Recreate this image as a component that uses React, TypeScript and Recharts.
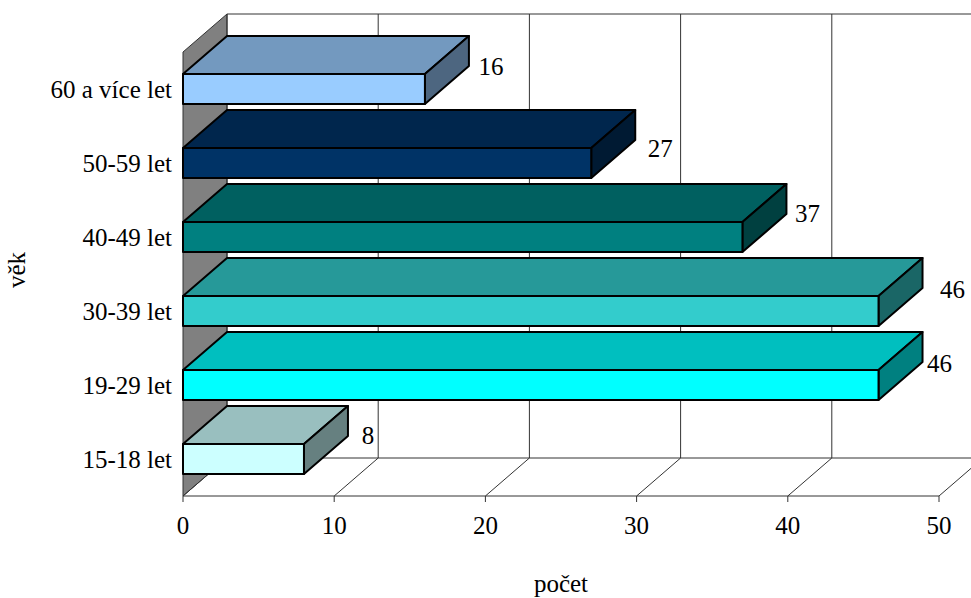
import { Bar, BarChart, CartesianGrid, Label, LabelList, XAxis, YAxis } from 'recharts'

const ageGroups = ['60 a více let', '50-59 let', '40-49 let', '30-39 let', '19-29 let', '15-18 let']
const counts = [16, 27, 37, 46, 46, 8]
const xTicks = [0, 10, 20, 30, 40, 50]

const frontColors = ['#99ccff', '#003366', '#008080', '#33cccc', '#00ffff', '#ccffff']
const topColors = ['#7399bf', '#00264d', '#006060', '#269999', '#00bfbf', '#99bfbf']
const sideColors = ['#4d6680', '#001a33', '#004040', '#1a6666', '#008080', '#668080']

// value labels sit at slightly irregular spots in the original
const labelDx = [66, 69, 65, 74, 61, 64]
const labelDy = [-8, 0, -9, -7, -7, -9]

const data = ageGroups.map((group, i) => ({ group, count: counts[i] }))

const DEPTH_X = 44
const DEPTH_Y = 38
const FONT = '"Liberation Serif", "Times New Roman", serif'
const FONT_SIZE = 25
const WALL_TOP = 14
const FLOOR_Y = 496

function GridLine(props: any) {
  const { x1, index } = props
  const bx = x1 + DEPTH_X
  const by = FLOOR_Y - DEPTH_Y
  return (
    <g key={index}>
      {index === 0 && (
        <>
          <polygon
            points={`${x1},${WALL_TOP + DEPTH_Y} ${bx},${WALL_TOP} ${bx},${by} ${x1},${FLOOR_Y}`}
            fill="#808080"
            stroke="#333"
            strokeWidth={1}
          />
          <line x1={bx} y1={WALL_TOP} x2={971} y2={WALL_TOP} stroke="#333" />
          <line x1={bx} y1={by} x2={971} y2={by} stroke="#333" />
        </>
      )}
      <line x1={bx} y1={WALL_TOP} x2={bx} y2={by} stroke="#333" />
      <line x1={x1} y1={FLOOR_Y} x2={bx} y2={by} stroke="#333" />
    </g>
  )
}

function Bar3D(props: any) {
  const { x, y, width, height, index } = props
  const r = x + width
  const b = y + height
  return (
    <g stroke="#000" strokeWidth={2} strokeLinejoin="round">
      <polygon
        points={`${x},${y} ${x + DEPTH_X},${y - DEPTH_Y} ${r + DEPTH_X},${y - DEPTH_Y} ${r},${y}`}
        fill={topColors[index]}
      />
      <polygon
        points={`${r},${y} ${r + DEPTH_X},${y - DEPTH_Y} ${r + DEPTH_X},${b - DEPTH_Y} ${r},${b}`}
        fill={sideColors[index]}
      />
      <rect x={x} y={y} width={width} height={height} fill={frontColors[index]} />
    </g>
  )
}

function ValueLabel(props: any) {
  const { x, y, width, value, index } = props
  return (
    <text
      x={x + width + labelDx[index]}
      y={y + labelDy[index]}
      textAnchor="middle"
      dominantBaseline="central"
      fontFamily={FONT}
      fontSize={FONT_SIZE}
      fill="#000"
    >
      {value}
    </text>
  )
}

export default function App() {
  const tick = { fill: '#000', fontSize: FONT_SIZE, fontFamily: FONT }
  return (
    <div style={{ position: 'absolute', left: 0, top: 0, width: 971, height: 598, background: '#fff' }}>
      <BarChart
        width={971}
        height={598}
        data={data}
        layout="vertical"
        margin={{ top: 52, right: 32, bottom: 0, left: 0 }}
      >
        <CartesianGrid horizontal={false} vertical={GridLine} />
        <XAxis
          type="number"
          domain={[0, 50]}
          ticks={xTicks}
          interval={0}
          stroke="#333"
          tick={tick}
          tickSize={6}
          tickMargin={14}
          height={102}
        >
          <Label value="počet" position="bottom" offset={-24} fill="#000" fontSize={FONT_SIZE} fontFamily={FONT} />
        </XAxis>
        <YAxis
          type="category"
          dataKey="group"
          width={183}
          interval={0}
          axisLine={false}
          tickLine={false}
          tick={tick}
          tickMargin={5}
        >
          <Label value="věk" angle={-90} position="insideLeft" dx={11} dy={14} fill="#000" fontSize={FONT_SIZE} fontFamily={FONT} />
        </YAxis>
        <Bar dataKey="count" barSize={30} shape={Bar3D} isAnimationActive={false}>
          <LabelList dataKey="count" content={ValueLabel} />
        </Bar>
      </BarChart>
    </div>
  )
}
